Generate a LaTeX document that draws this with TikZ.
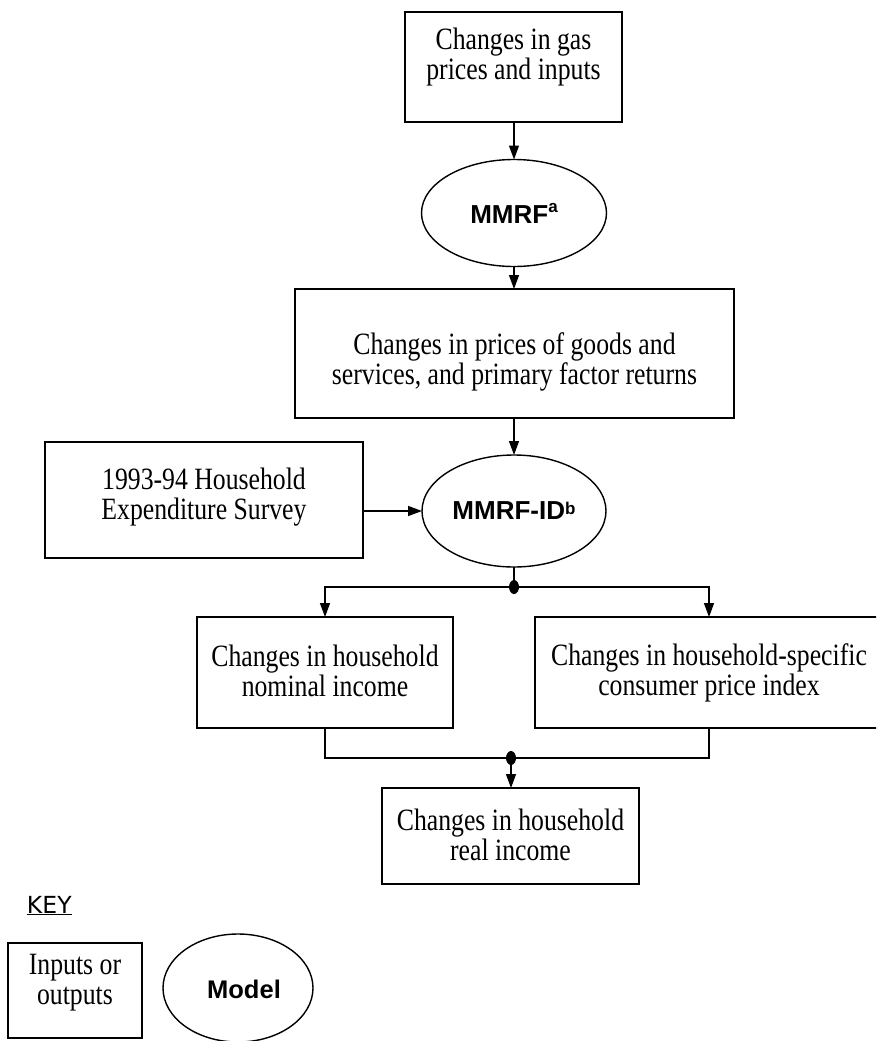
\documentclass[tikz,border=0pt]{standalone}
\usepackage{fontspec}
\setmainfont{Liberation Serif}[FakeStretch=0.83]
\newfontfamily\sansb{Liberation Sans}
\newfontfamily\keyfont{DejaVu Sans}
\usetikzlibrary{arrows.meta,shapes.geometric,calc}
\newcommand\mysup[2]{\raisebox{#1}{\fontsize{17}{17}\selectfont #2}}
\begin{document}
\begin{tikzpicture}[x=1pt,y=-1pt,
  line width=1.4pt,
  every node/.style={inner sep=0pt, outer sep=0pt},
  ibox/.style 2 args={draw, rectangle, minimum width=#1pt, minimum height=#2pt},
  txt/.style={align=center, font=\fontsize{31}{30}\selectfont},
  model/.style 2 args={draw, ellipse, minimum width=#1pt, minimum height=#2pt,
    font=\sansb\bfseries\fontsize{26}{30}\selectfont},
  arr/.style={-{Triangle[length=14pt,width=10pt]}},
  jdot/.style={fill, ellipse, minimum width=10pt, minimum height=14pt}]
\useasboundingbox (0,0) rectangle (876,1041);
\clip (0,0) rectangle (876,1041);

% boxes and models
\node[ibox={217}{110}] (b1) at (513.5,67) {};
\node[txt] (t1) at (513.5,57) {Changes in gas\\prices and inputs};
\node[model={185}{107}] (m1) at (514,213) {MMRF\mysup{11pt}{a}};
\node[ibox={439}{129}] (b2) at (514.5,353.5) {};
\node[txt] (t2) at (514.5,362) {Changes in prices of goods and\\services, and primary factor returns};
\node[model={184}{112}] (m2) at (514,511) {MMRF-ID\mysup{5pt}{b}};
\node[ibox={318}{116}] (b3) at (204,500) {};
\node[txt] (t3) at (204,497) {1993-94 Household\\Expenditure Survey};
\node[jdot] (d1) at (514,587) {};
\node[ibox={256}{111}] (b4) at (325,672.5) {};
\node[txt] (t4) at (325,671) {Changes in household\\nominal income};
\node[ibox={348}{111}] (b5) at (709,672.5) {};
\node[txt] (t5) at (709,673) {Changes in household-specific\\consumer price index};
\node[jdot] (d2) at (511,758) {};
\node[ibox={257}{96}] (b6) at (510.5,836) {};
\node[txt] (t6) at (510.5,835) {Changes in household\\real income};

% key
\node[anchor=base west, font=\keyfont\fontsize{23.5}{28}\selectfont] (key) at (27,913) {\underline{KEY}};
\node[ibox={134}{95}] (k1) at (75,990.5) {};
\node[txt] (kt1) at (75,983) {Inputs or\\outputs};
\node[draw, ellipse, minimum width=150pt, minimum height=108pt] (k2) at (238,988) {};
\node[font=\sansb\bfseries\fontsize{25.5}{30}\selectfont] (k2t) at (244,989) {Model};

% connectors
\draw[arr] (b1.south -| m1) -- (m1.north);
\draw[arr] (m1.south) -- (b2.north -| m1);
\draw[arr] (b2.south -| m2) -- (m2.north);
\draw[arr] (b3.east |- m2) -- (m2.west);
\draw (m2.south) -- (d1.center);
\draw[arr] (d1.center) -| (b4.north);
\draw[arr] (d1.center) -| (b5.north);
\draw (b4.south) |- (d2.center) -| (b5.south);
\draw[arr] (d2.center) -- (b6.north -| d2);
\end{tikzpicture}
\end{document}
